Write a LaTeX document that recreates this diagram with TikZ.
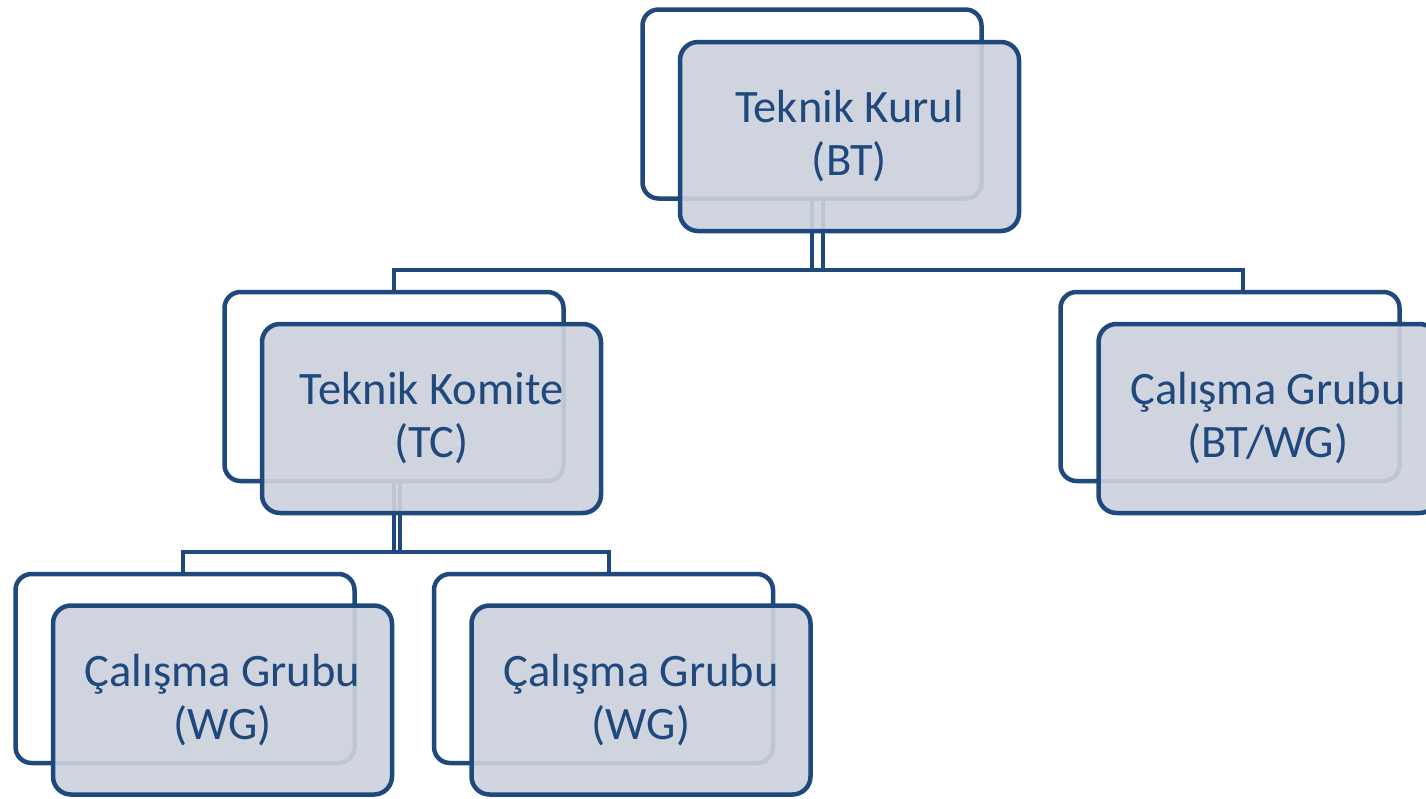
\documentclass[tikz,border=0pt]{standalone}
\usepackage{fontspec}
\setmainfont{Carlito}
\definecolor{navy}{RGB}{31,73,125}
\definecolor{panel}{RGB}{204,209,221}
\tikzset{
  backbox/.style={draw=navy, line width=4.5pt, fill=white, rounded corners=16pt,
    minimum width=339pt, minimum height=189pt, inner sep=0pt},
  frontbox/.style={draw=navy, line width=4.5pt, fill=panel, fill opacity=0.92, text opacity=1,
    rounded corners=18pt, minimum width=339pt, minimum height=189pt, inner sep=0pt,
    text=navy, align=center, font=\fontsize{46.5}{53}\selectfont},
  link/.style={draw=navy, line width=4.5pt}
}
\begin{document}
\begin{tikzpicture}[x=1pt,y=-1pt]
\useasboundingbox (0,0) rectangle (1426,798);
% back boxes
\node[backbox] (btb) at (812,104) {};
\node[backbox] (tcb) at (394,386.5) {};
\node[backbox] (bwb) at (1230,386.5) {};
\node[backbox] (wg1b) at (185,668.5) {};
\node[backbox] (wg2b) at (603.5,668.5) {};
% connectors
\coordinate (bthub) at (812,270);
\coordinate (tchub) at (394,552);
\draw[link] ([xshift=11pt]btb.south) -- ([xshift=11pt]bthub) -- (bthub -| tcb.north) -- (tcb.north);
\draw[link] (btb.south) -- (bthub) -- ([xshift=13pt]bthub -| bwb.north) -- ([xshift=13pt]bwb.north);
\draw[link] ([xshift=6pt]tcb.south) -- ([xshift=6pt]tchub) -- ([xshift=-2pt]tchub -| wg1b.north) -- ([xshift=-2pt]wg1b.north);
\draw[link] (tcb.south) -- (tchub) -- ([xshift=5.5pt]tchub -| wg2b.north) -- ([xshift=5.5pt]wg2b.north);
% front boxes
\node[frontbox] (btf) at (849.5,136.5) {Teknik Kurul\\(BT)};
\node[frontbox] (tcf) at (431.5,418.5) {Teknik Komite\\(TC)};
\node[frontbox] (bwf) at (1268,418.5) {Çalışma Grubu\\(BT/WG)};
\node[frontbox] (wg1f) at (222.5,700) {Çalışma Grubu\\(WG)};
\node[frontbox] (wg2f) at (641,700) {Çalışma Grubu\\(WG)};
\end{tikzpicture}
\end{document}
